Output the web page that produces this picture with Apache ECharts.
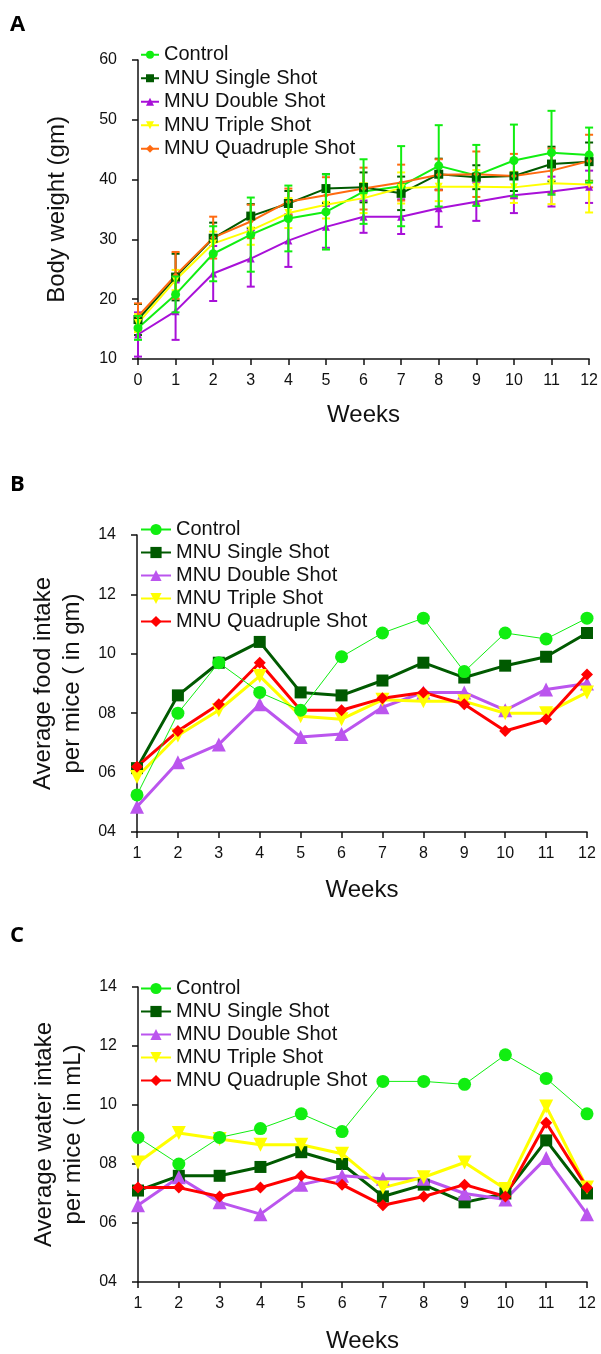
<!DOCTYPE html>
<html>
<head>
<meta charset="utf-8">
<script src="https://cdn.jsdelivr.net/npm/echarts@6/dist/echarts.min.js"></script>
<style>
html,body{margin:0;padding:0;background:#fff;}
#chart{width:601px;height:1354px;}
</style>
</head>
<body>
<div id="chart"></div>
<script>
// ---------- DATA ----------
const groupNames = ['Control', 'MNU Single Shot', 'MNU Double Shot', 'MNU Triple Shot', 'MNU Quadruple Shot'];

// Panel A: body weight (gm), weeks 0..12
const weeksA = [0,1,2,3,4,5,6,7,8,9,10,11,12];
const controlA = [15.2, 20.8, 27.6, 30.8, 33.5, 34.6, 38.0, 38.9, 42.3, 40.7, 43.2, 44.5, 44.1];
const singleA  = [16.6, 23.7, 30.2, 33.9, 36.0, 38.5, 38.7, 37.7, 40.9, 40.4, 40.6, 42.6, 43.0];
const doubleA  = [14.1, 18.0, 24.3, 26.8, 29.8, 32.1, 33.8, 33.8, 35.2, 36.3, 37.4, 38.0, 38.8];
const tripleA  = [16.0, 23.2, 29.3, 31.5, 34.4, 35.8, 36.9, 38.6, 38.8, 38.8, 38.7, 39.4, 39.2];
const quadA    = [17.1, 24.0, 30.3, 33.0, 36.3, 37.4, 38.5, 39.5, 40.8, 40.9, 40.6, 41.5, 43.1];
// symmetric error (± gm)
const controlErrA = [2.0, 3.0, 4.6, 6.2, 5.5, 6.3, 5.4, 6.7, 6.8, 5.1, 6.0, 7.0, 4.6];
const singleErrA  = [2.6, 3.9, 2.6, 2.0, 2.1, 2.4, 2.5, 2.8, 2.6, 2.0, 2.5, 2.9, 3.2];
const doubleErrA  = [3.7, 4.8, 4.6, 4.7, 4.4, 3.5, 2.7, 2.9, 3.1, 3.2, 3.0, 2.5, 2.7];
const tripleErrA  = [1.5, 1.7, 2.0, 2.4, 2.5, 2.3, 2.5, 2.6, 2.4, 2.8, 2.6, 3.5, 4.7];
const quadErrA    = [2.2, 3.9, 3.5, 2.8, 2.2, 3.0, 3.5, 3.0, 2.6, 3.8, 3.7, 3.7, 4.4];

// Panel B: average food intake per mice (gm), weeks 1..12
const weeksBC = [1,2,3,4,5,6,7,8,9,10,11,12];
const controlB = [5.25, 8.0, 9.7, 8.7, 8.1, 9.9, 10.7, 11.2, 9.4, 10.7, 10.5, 11.2];
const singleB  = [6.15, 8.6, 9.7, 10.4, 8.7, 8.6, 9.1, 9.7, 9.2, 9.6, 9.9, 10.7];
const doubleB  = [4.85, 6.35, 6.95, 8.3, 7.2, 7.3, 8.2, 8.7, 8.7, 8.1, 8.8, 9.0];
const tripleB  = [5.85, 7.25, 8.1, 9.25, 7.9, 7.8, 8.45, 8.4, 8.4, 8.0, 8.0, 8.7];
const quadB    = [6.2, 7.4, 8.3, 9.7, 8.1, 8.1, 8.5, 8.7, 8.3, 7.4, 7.8, 9.3];

// Panel C: average water intake per mice (mL), weeks 1..12
const controlC = [8.9, 8.0, 8.9, 9.2, 9.7, 9.1, 10.8, 10.8, 10.7, 11.7, 10.9, 9.7];
const singleC  = [7.1, 7.6, 7.6, 7.9, 8.4, 8.0, 6.9, 7.3, 6.7, 7.0, 8.8, 7.0];
const doubleC  = [6.6, 7.55, 6.7, 6.3, 7.3, 7.6, 7.5, 7.5, 7.0, 6.8, 8.2, 6.3];
const tripleC  = [8.05, 9.05, 8.85, 8.65, 8.65, 8.35, 7.2, 7.55, 8.05, 7.15, 9.95, 7.2];
const quadC    = [7.2, 7.2, 6.9, 7.2, 7.6, 7.3, 6.6, 6.9, 7.3, 6.9, 9.4, 7.2];

// ---------- STYLES ----------
const FONT = '"Liberation Sans", Arial, sans-serif';
const colorsA = ['#11ee11', '#005a00', '#a810d8', '#ffff00', '#ff6a10'];
const colorsBC = ['#11ee11', '#005a00', '#bb55ee', '#ffff00', '#ff0000'];
const symbols = ['circle', 'rect', 'triangle', 'triangle', 'diamond'];
const rotates = [0, 0, 0, 180, 0];
const sizesA = [9, 9, 8, 8, 6];
const sizesBC = [13, 12, 14, 14, 12];
const widthsA = [2, 2, 2, 2, 2];
const widthsBC = [1, 3, 3, 3, 3];

const seriesA = [controlA, singleA, doubleA, tripleA, quadA];
const errA = [controlErrA, singleErrA, doubleErrA, tripleErrA, quadErrA];
const seriesB = [controlB, singleB, doubleB, tripleB, quadB];
const seriesC = [controlC, singleC, doubleC, tripleC, quadC];

function errRender(params, api) {
  const x = api.value(0), lo = api.value(1), hi = api.value(2);
  const pLo = api.coord([x, lo]), pHi = api.coord([x, hi]);
  const hw = 4;
  const style = {stroke: api.visual('color'), lineWidth: 2};
  return {type: 'group', children: [
    {type: 'line', shape: {x1: pLo[0], y1: pLo[1], x2: pHi[0], y2: pHi[1]}, style: style},
    {type: 'line', shape: {x1: pLo[0] - hw, y1: pLo[1], x2: pLo[0] + hw, y2: pLo[1]}, style: style},
    {type: 'line', shape: {x1: pHi[0] - hw, y1: pHi[1], x2: pHi[0] + hw, y2: pHi[1]}, style: style}
  ]};
}

const series = [];
// Panel A
groupNames.forEach((n, i) => {
  series.push({
    type: 'custom', name: 'err-' + n, xAxisIndex: 0, yAxisIndex: 0,
    renderItem: errRender, z: i === 0 ? 5 : 2,
    itemStyle: {color: colorsA[i]},
    encode: {x: 0, y: [1, 2]},
    data: weeksA.map((w, j) => [w, seriesA[i][j] - errA[i][j], seriesA[i][j] + errA[i][j]])
  });
  series.push({
    type: 'line', name: n + '|A', xAxisIndex: 0, yAxisIndex: 0, z: 3,
    symbol: symbols[i], symbolSize: sizesA[i], symbolRotate: rotates[i],
    lineStyle: {color: colorsA[i], width: widthsA[i]},
    itemStyle: {color: colorsA[i]},
    data: weeksA.map((w, j) => [w, seriesA[i][j]])
  });
});
// Panels B and C
[[seriesB, 1, '|B'], [seriesC, 2, '|C']].forEach(([arr, idx, suf]) => {
  groupNames.forEach((n, i) => {
    series.push({
      type: 'line', name: n + suf, xAxisIndex: idx, yAxisIndex: idx,
      z: i === 0 ? 4 : 3,
      symbol: symbols[i], symbolSize: sizesBC[i], symbolRotate: rotates[i],
      lineStyle: {color: colorsBC[i], width: widthsBC[i]},
      itemStyle: {color: colorsBC[i]},
      data: weeksBC.map((w, j) => [w, arr[i][j]])
    });
  });
});

const axisLine = {show: true, lineStyle: {color: '#111', width: 1.5}};
function xAxisCfg(idx, min, gap) {
  return {
    type: 'value', gridIndex: idx, min: min, max: 12, interval: 1,
    axisLine: axisLine, axisTick: {show: true, length: 6, lineStyle: {color: '#111', width: 1.5}},
    splitLine: {show: false},
    axisLabel: {fontSize: 16, color: '#111', fontFamily: FONT, margin: 14},
    name: 'Weeks', nameLocation: 'middle', nameGap: gap,
    nameTextStyle: {fontSize: 24, color: '#111', fontFamily: FONT}
  };
}
function yAxisCfg(idx, min, max, interval, name, gap, pad) {
  return {
    type: 'value', gridIndex: idx, min: min, max: max, interval: interval,
    axisLine: axisLine, axisTick: {show: true, length: 6, lineStyle: {color: '#111', width: 1.5}},
    splitLine: {show: false},
    axisLabel: {fontSize: 16, color: '#111', fontFamily: FONT, margin: 21,
      formatter: v => pad ? (v < 10 ? '0' + v : '' + v) : '' + v},
    name: name, nameLocation: 'middle', nameGap: gap,
    nameTextStyle: {fontSize: 24, color: '#111', fontFamily: FONT, lineHeight: 29}
  };
}
function legendCfg(suf, left, top, itemWidth, itemHeight, lh) {
  return {
    orient: 'vertical', left: left, top: top, padding: 0, itemGap: 0,
    itemWidth: itemWidth, itemHeight: itemHeight,
    data: groupNames.map(n => n + suf),
    formatter: name => name.split('|')[0],
    textStyle: {fontSize: 20, color: '#111', fontFamily: FONT, lineHeight: lh},
    selectedMode: false
  };
}

const option = {
  backgroundColor: '#fff',
  animation: false,
  grid: [
    {left: 138, right: 11, top: 60, height: 299},
    {left: 137, right: 14, top: 535, height: 297},
    {left: 138, right: 14, top: 987, height: 296}
  ],
  xAxis: [xAxisCfg(0, 0, 44), xAxisCfg(1, 1, 46), xAxisCfg(2, 1, 47)],
  yAxis: [
    yAxisCfg(0, 10, 60, 10, 'Body weight (gm)', 66, false),
    yAxisCfg(1, 4, 14, 2, 'Average food intake\nper mice ( in gm)', 50, true),
    yAxisCfg(2, 4, 14, 2, 'Average water intake\nper mice ( in mL)', 50, true)
  ],
  legend: [
    legendCfg('|A', 140, 43, 18, 10, 23.5),
    legendCfg('|B', 140, 518, 30, 14, 23),
    legendCfg('|C', 140, 977, 30, 14, 23)
  ],
  graphic: [
    {type: 'text', left: 10, top: 14, style: {text: 'A', font: 'bold 22px "Open Sans", sans-serif', fill: '#000'}},
    {type: 'text', left: 10, top: 474, style: {text: 'B', font: 'bold 22px "Open Sans", sans-serif', fill: '#000'}},
    {type: 'text', left: 10, top: 925, style: {text: 'C', font: 'bold 22px "Open Sans", sans-serif', fill: '#000'}}
  ],
  series: series
};

const chart = echarts.init(document.getElementById('chart'), null, {renderer: 'canvas'});
chart.setOption(option);
</script>
</body>
</html>
